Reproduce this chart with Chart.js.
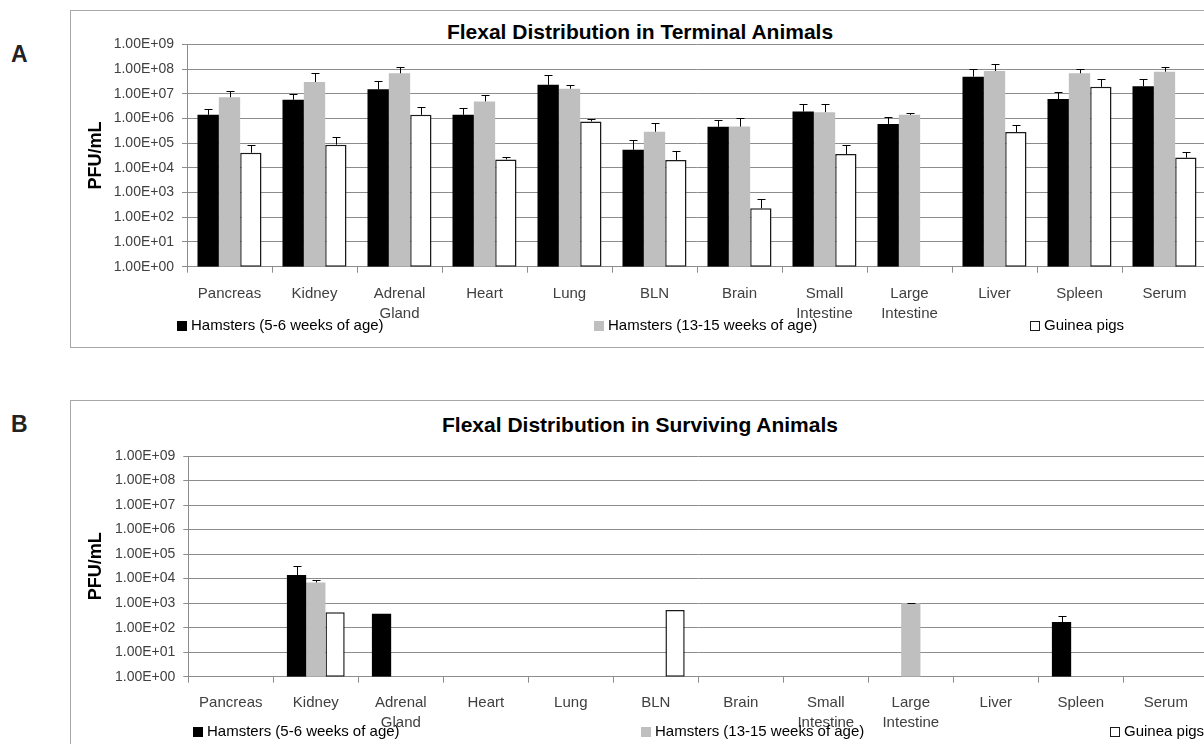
<!DOCTYPE html>
<html>
<head>
<meta charset="utf-8">
<script src="https://cdn.jsdelivr.net/npm/chart.js@4/dist/chart.umd.min.js"></script>
<style>
  html, body { margin:0; padding:0; background:#fff; }
  body { width:1204px; height:744px; overflow:hidden; position:relative; font-family:"Liberation Sans", Arial, sans-serif; }
  .abs { position:absolute; }
  .box { position:absolute; border:1px solid #a8a8a8; box-sizing:border-box; }
  .letter { position:absolute; font-weight:bold; font-size:23px; color:#222; }
  .title { position:absolute; width:600px; text-align:center; font-weight:bold; font-size:21px; color:#000; line-height:24px; }
  .leg { position:absolute; font-size:15px; color:#000; white-space:nowrap; line-height:17px; }
  .sw { display:inline-block; width:10px; height:10px; vertical-align:-1px; margin-right:4px; box-sizing:border-box; }
</style>
</head>
<body>
<script>
// ---------- data ----------
const categories = ['Pancreas','Kidney',['Adrenal','Gland'],'Heart','Lung','BLN','Brain',['Small','Intestine'],['Large','Intestine'],'Liver','Spleen','Serum'];
const seriesNames = ['Hamsters (5-6 weeks of age)','Hamsters (13-15 weeks of age)','Guinea pigs'];
const yTickValues = [1,10,100,1e3,1e4,1e5,1e6,1e7,1e8,1e9];
const yTickLabels = ['1.00E+00','1.00E+01','1.00E+02','1.00E+03','1.00E+04','1.00E+05','1.00E+06','1.00E+07','1.00E+08','1.00E+09'];
const titleA = 'Flexal Distribution in Terminal Animals';
const titleB = 'Flexal Distribution in Surviving Animals';
const yAxisTitle = 'PFU/mL';

// Panel A (terminal animals): means and upper error-bar ends
const termYoung      = [1.4e6, 5.7e6, 1.5e7, 1.4e6, 2.3e7, 5.4e4, 4.6e5, 1.9e6, 6.0e5, 4.9e7, 6.1e6, 2.0e7];
const termYoungErr   = [2.4e6, 9.8e6, 3.2e7, 2.7e6, 5.9e7, 1.3e5, 8.7e5, 3.8e6, 1.1e6, 9.8e7, 1.15e7, 3.8e7];
const termOld        = [7.2e6, 3.0e7, 6.7e7, 4.9e6, 1.6e7, 2.9e5, 4.7e5, 1.8e6, 1.4e6, 8.3e7, 6.7e7, 7.8e7];
const termOldErr     = [1.26e7, 6.8e7, 1.23e8, 9.1e6, 2.3e7, 6.8e5, 1.07e6, 3.8e6, 1.7e6, 1.55e8, 1.02e8, 1.23e8];
const termGuinea     = [4.1e4, 8.7e4, 1.4e6, 2.2e4, 7.6e5, 2.1e4, 2.3e2, 3.6e4, null, 2.8e5, 1.9e7, 2.6e4];
const termGuineaErr  = [8.7e4, 1.8e5, 3.0e6, 2.7e4, 9.1e5, 4.9e4, 5.6e2, 8.7e4, null, 5.2e5, 3.8e7, 4.4e4];

// Panel B (surviving animals)
const survYoung      = [null, 1.4e4, 3.7e2, null, null, null, null, null, null, null, 1.7e2, null];
const survYoungErr   = [null, 3.2e4, null, null, null, null, null, null, null, null, 2.9e2, null];
const survOld        = [null, 7.0e3, null, null, null, null, null, null, 1.0e3, null, null, null];
const survOldErr     = [null, 8.7e3, null, null, null, null, null, null, 1.05e3, null, null, null];
const survGuinea     = [null, 4.2e2, null, null, null, 5.2e2, null, null, null, null, null, null];
const survGuineaErr  = [null, null, null, null, null, null, null, null, null, null, null, null];
</script>

<div class="letter" style="left:11px;top:41px">A</div>
<div class="box" style="left:70px;top:10px;width:1200px;height:338px"></div>
<div class="title" id="tA" style="left:340px;top:20px"></div>
<canvas id="cA" class="abs" width="1160" height="337" style="left:70px;top:10px;width:1160px;height:337px"></canvas>
<div class="leg" id="lA0" style="left:177px;top:316px"></div>
<div class="leg" id="lA1" style="left:594px;top:316px"></div>
<div class="leg" id="lA2" style="left:1030px;top:316px"></div>

<div class="letter" style="left:11px;top:411px">B</div>
<div class="box" style="left:70px;top:400px;width:1200px;height:400px"></div>
<div class="title" id="tB" style="left:340px;top:413px"></div>
<canvas id="cB" class="abs" width="1160" height="344" style="left:70px;top:400px;width:1160px;height:344px"></canvas>
<div class="leg" id="lB0" style="left:193px;top:722px"></div>
<div class="leg" id="lB1" style="left:641px;top:722px"></div>
<div class="leg" id="lB2" style="left:1110px;top:722px"></div>

<script>
const fills = ['#000000', '#bfbfbf', '#ffffff'];
const borders = ['#000000', '#bfbfbf', '#1a1a1a'];

document.getElementById('tA').textContent = titleA;
document.getElementById('tB').textContent = titleB;
['A','B'].forEach(p => {
  seriesNames.forEach((n, i) => {
    const el = document.getElementById('l' + p + i);
    const sw = document.createElement('span');
    sw.className = 'sw';
    sw.style.background = fills[i];
    if (i === 2) sw.style.border = '1.5px solid #1a1a1a';
    el.appendChild(sw);
    el.appendChild(document.createTextNode(n));
  });
});

const errorBarPlugin = {
  id: 'errorBars',
  afterDatasetsDraw(chart) {
    const ctx = chart.ctx, ys = chart.scales.y;
    chart.data.datasets.forEach((ds, di) => {
      if (!ds.errTop) return;
      const meta = chart.getDatasetMeta(di);
      meta.data.forEach((bar, i) => {
        const v = ds.data[i], e = ds.errTop[i];
        if (v == null || e == null) return;
        const x = Math.round(bar.x) + 0.5;
        const y0 = ys.getPixelForValue(v), y1 = Math.round(ys.getPixelForValue(e)) + 0.5;
        ctx.save();
        ctx.strokeStyle = '#000';
        ctx.lineWidth = 1;
        ctx.beginPath();
        ctx.moveTo(x, y0); ctx.lineTo(x, y1);
        ctx.moveTo(x - 4, y1); ctx.lineTo(x + 4, y1);
        ctx.stroke();
        ctx.restore();
      });
    });
  }
};

function makeChart(id, vals, errs, cfg) {
  const datasets = vals.map((d, i) => ({
    label: seriesNames[i],
    data: d,
    errTop: errs[i],
    backgroundColor: fills[i],
    borderColor: borders[i],
    borderWidth: i === 2 ? 1.5 : 0,
    borderSkipped: false,
    categoryPercentage: cfg.catPct,
    barPercentage: 1.0
  }));
  return new Chart(document.getElementById(id), {
    type: 'bar',
    data: { labels: categories, datasets },
    plugins: [errorBarPlugin],
    options: {
      responsive: false,
      animation: false,
      devicePixelRatio: 1,
      layout: { padding: { top: cfg.padTop, right: cfg.padRight, left: 0, bottom: 0 } },
      plugins: { legend: { display: false }, title: { display: false }, tooltip: { enabled: false } },
      scales: {
        x: {
          grid: { offset: true, drawOnChartArea: false, drawTicks: true, tickLength: 6, color: '#8c8c8c' },
          border: { display: true, color: '#8c8c8c', width: 1 },
          ticks: { font: { family: 'Liberation Sans', size: 15, lineHeight: '20px' }, color: '#404040', padding: cfg.xPad, maxRotation: 0, autoSkip: false },
          afterFit: s => { s.height = cfg.xHeight; }
        },
        y: {
          type: 'logarithmic',
          min: 1, max: 1e9,
          afterBuildTicks: s => { s.ticks = yTickValues.map(v => ({ value: v })); },
          ticks: {
            font: { family: 'Liberation Sans', size: 14 }, color: '#404040', padding: 8,
            callback: (v) => yTickLabels[yTickValues.indexOf(v)] ?? ''
          },
          grid: { color: '#8c8c8c', lineWidth: 1, drawTicks: true, tickLength: 5 },
          border: { display: true, color: '#8c8c8c', width: 1 },
          title: { display: true, text: yAxisTitle, font: { family: 'Liberation Sans', size: 18, weight: 'bold' }, color: '#000', padding: { top: 15, bottom: 0 } },
          afterFit: s => { s.width = cfg.yWidth; }
        }
      }
    }
  });
}

makeChart('cA', [termYoung, termOld, termGuinea], [termYoungErr, termOldErr, termGuineaErr],
  { catPct: 0.753, padTop: 34.3, padRight: 23, xHeight: 80.3, yWidth: 117, xPad: 11 });
makeChart('cB', [survYoung, survOld, survGuinea], [survYoungErr, survOldErr, survGuineaErr],
  { catPct: 0.68, padTop: 56, padRight: 21.7, xHeight: 67.3, yWidth: 118.3, xPad: 10 });
</script>
</body>
</html>
